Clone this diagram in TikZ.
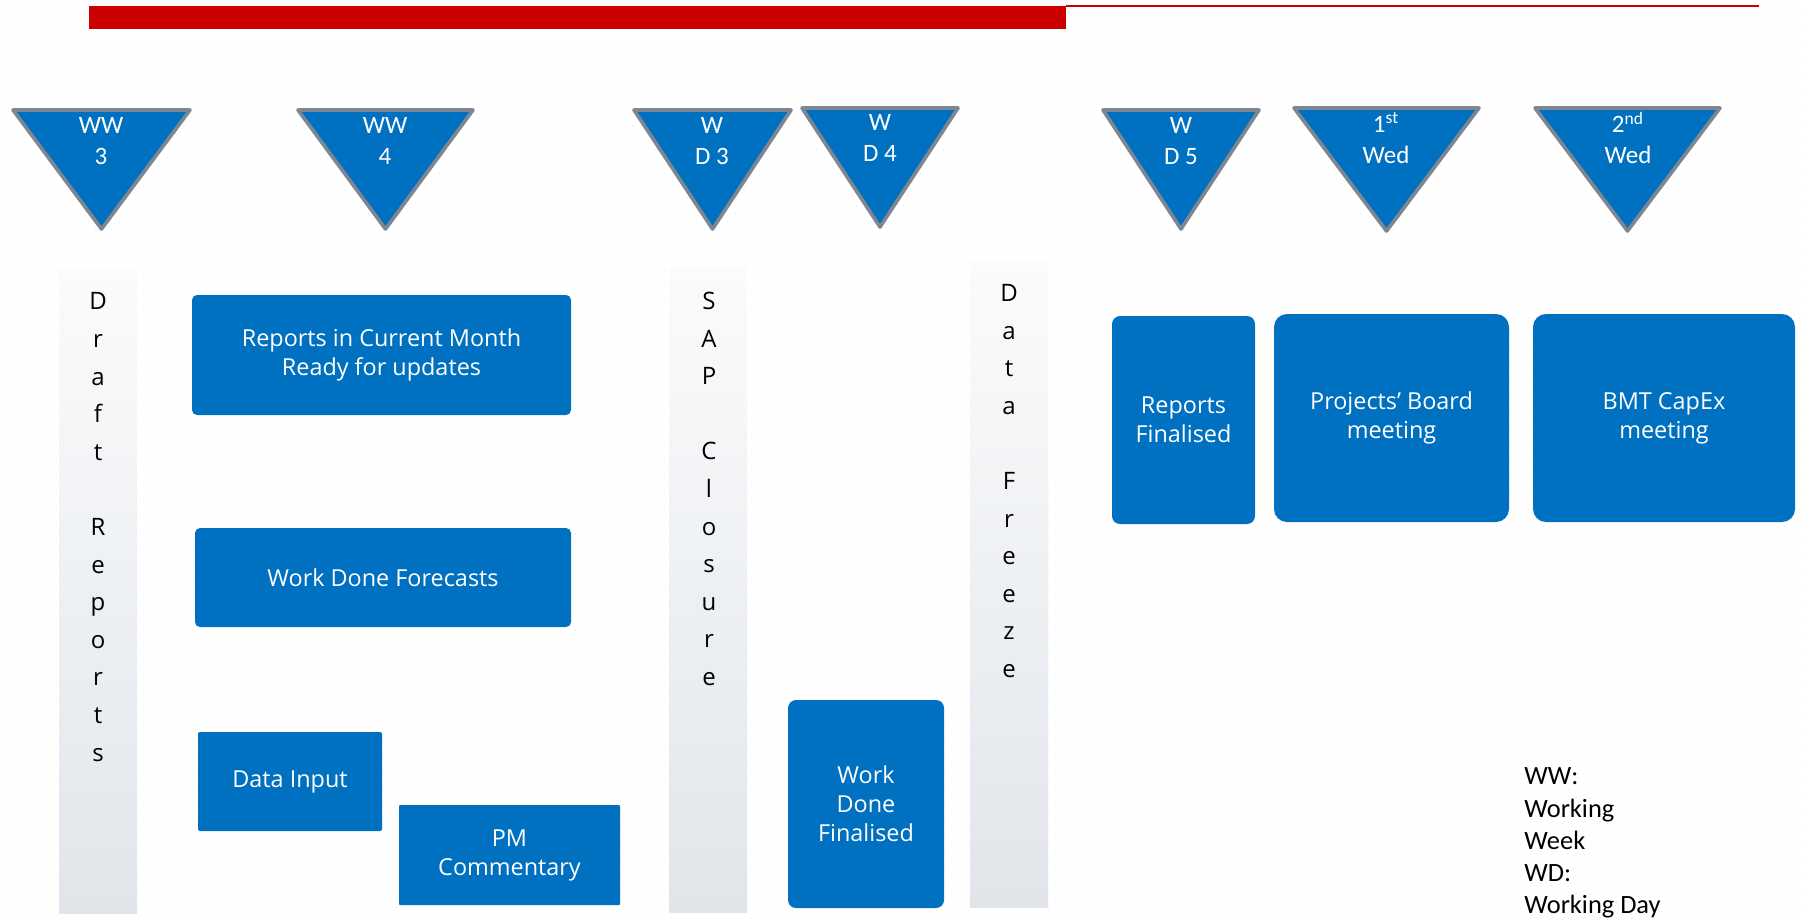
\documentclass[tikz,border=0pt]{standalone}
\usepackage{fontspec}
\setmainfont{Carlito}
\newfontfamily\opensans{Open Sans}
\usetikzlibrary{patterns.meta}

\definecolor{taskblue}{RGB}{0,112,192}
\definecolor{markgray}{RGB}{125,134,145}
\definecolor{barred}{RGB}{204,0,0}
\definecolor{phasetop}{RGB}{250,251,252}
\definecolor{phasemid}{RGB}{214,219,227}
\definecolor{phasebot}{RGB}{225,229,234}

\tikzdeclarepattern{
  name=dotgrid,
  type=uncolored,
  bounding box={(-1pt,-1pt) and (9pt,9pt)},
  tile size={(8pt,8pt)},
  code={\fill (0pt,0pt) circle (0.45pt); \fill (4pt,4pt) circle (0.45pt);}
}

\tikzset{
  weekmark/.style={fill=taskblue, draw=markgray, line width=1.8pt, line join=round},
  weeklabel/.style={text=white, align=center, inner sep=0pt, font=\fontsize{12.5}{15.5}\selectfont},
  task/.style={fill=taskblue, text=white, align=center, inner sep=0pt, rounded corners=2.5pt,
    font=\opensans\fontsize{11.7}{14.5}\selectfont},
  phase/.style={top color=phasetop, middle color=phasemid, bottom color=phasebot},
  phaselabel/.style={align=center, inner sep=0pt, font=\opensans\fontsize{12}{18.8}\selectfont},
}

\begin{document}
\begin{tikzpicture}[x=0.5pt,y=-0.5pt]
		\useasboundingbox (0,0) rectangle (1802,918);
		\fill[pattern=dotgrid, pattern color=black!8] (0,0) rectangle (1802,918);

		% header bar
		\fill[barred] (89,6) rectangle (1066,29);
		\draw[barred, line width=1pt] (1066,6) -- (1759,6);

		% week / day markers
		\draw[weekmark] (13,110) -- (190,110) -- (101.5,229) -- cycle;
		\draw[weekmark] (298,110) -- (473,110) -- (385.5,229) -- cycle;
		\draw[weekmark] (634,110) -- (791,110) -- (712.5,229) -- cycle;
		\draw[weekmark] (802,108) -- (958,108) -- (880,227) -- cycle;
		\draw[weekmark] (1103,110) -- (1259,110) -- (1181,229) -- cycle;
		\draw[weekmark] (1294,108) -- (1479,108) -- (1386.5,231) -- cycle;
		\draw[weekmark] (1535,108) -- (1720,108) -- (1627.5,231) -- cycle;

		\draw (101,141) node [weeklabel] (ww3) {WW\\3};
		\draw (385,141) node [weeklabel] (ww4) {WW\\4};
		\draw (712,141) node [weeklabel] (wd3) {W\\D 3};
		\draw (880,138) node [weeklabel] (wd4) {W\\D 4};
		\draw (1181,141) node [weeklabel] (wd5) {W\\D 5};
		\draw (1386,138) node [weeklabel] (wed1) {1\textsuperscript{st}\\Wed};
		\draw (1628,138) node [weeklabel] (wed2) {2\textsuperscript{nd}\\Wed};

		% phase columns
		\fill[phase] (59,268) rectangle (137,913);
		\fill[phase] (669,267) rectangle (747,912);
		\fill[phase] (970,262) rectangle (1048,907);

		\draw (98,527) node [phaselabel] (draft) {D\\r\\a\\f\\t\\~\\R\\e\\p\\o\\r\\t\\s};
		\draw (709,489) node [phaselabel] (sap) {S\\A\\P\\~\\C\\l\\o\\s\\u\\r\\e};
		\draw (1009,481) node [phaselabel] (freeze) {D\\a\\t\\a\\~\\F\\r\\e\\e\\z\\e};

		% tasks
		\draw (381.5,355) node [task, minimum width=189.5pt, minimum height=60pt] (curmonth) {Reports in Current Month\\Ready for updates};
		\draw (383,577.5) node [task, minimum width=188pt, minimum height=49.5pt] (forecast) {Work Done Forecasts};
		\draw (290,781.5) node [task, rounded corners=1pt, minimum width=92pt, minimum height=49.5pt] (input) {Data Input};
		\draw (509.5,855) node [task, rounded corners=0.5pt, minimum width=110.5pt, minimum height=50pt] (comment) {PM\\Commentary};
		\draw (866,804) node [task, rounded corners=4pt, minimum width=78pt, minimum height=104pt] (wdfinal) {Work\\Done\\Finalised};
		\draw (1183.5,420) node [task, rounded corners=4pt, minimum width=71.5pt, minimum height=104pt] (repfinal) {Reports\\Finalised};
		\draw (1391.5,418) node [task, rounded corners=6.5pt, minimum width=117.5pt, minimum height=104pt] (board) {Projects’ Board\\meeting};
		\draw (1664,418) node [task, rounded corners=6.5pt, minimum width=131pt, minimum height=104pt] (capex) {BMT CapEx\\meeting};

		% legend
		\draw (1524,767.5) node [anchor=north west, align=left, inner sep=0pt, font=\fontsize{13.2}{16.1}\selectfont] (legend) {WW:\\Working\\Week\\WD:\\Working Day};
	\end{tikzpicture}
\end{document}
